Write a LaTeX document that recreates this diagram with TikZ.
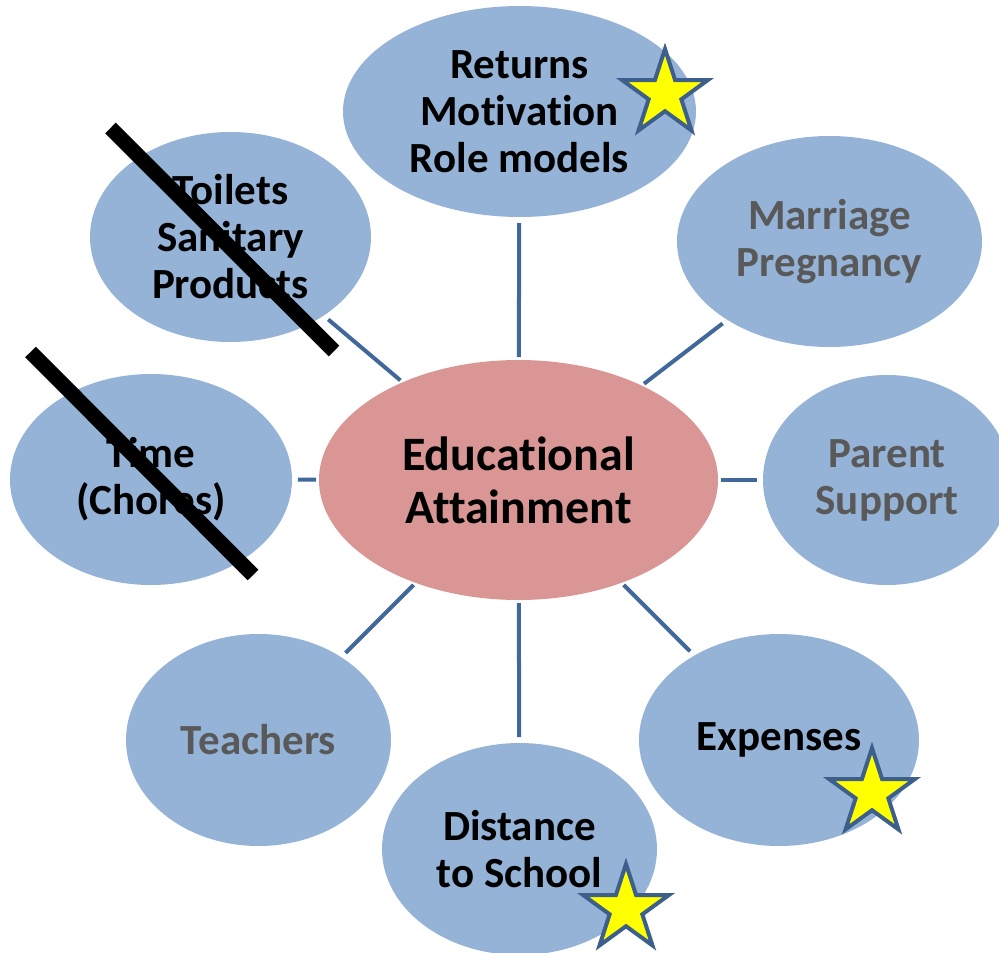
\documentclass[tikz,border=0pt]{standalone}
\usepackage{fontspec}
\setmainfont{Carlito}[Ligatures=NoCommon]
\usetikzlibrary{shapes.geometric}
\definecolor{bubblefill}{HTML}{95B3D7}
\definecolor{hubfill}{HTML}{D99694}
\definecolor{linkblue}{HTML}{41689A}
\definecolor{starline}{HTML}{3C5F8C}
\definecolor{greytext}{HTML}{595959}
\definecolor{staryellow}{HTML}{FFFF00}
\newcommand\bubblefont{\bfseries\fontsize{43}{47}\selectfont}
\newcommand\hubfont{\bfseries\fontsize{48}{53}\selectfont}
\begin{document}
\begin{tikzpicture}[x=1pt,y=-1pt,
  bubble/.style={ellipse, fill=bubblefill, inner sep=0pt, outer sep=0pt, align=center, font=\bubblefont, text=black},
  greybubble/.style={bubble, text=greytext},
  hubnode/.style={ellipse, fill=hubfill, inner sep=0pt, outer sep=0pt, align=center, font=\hubfont, text=black},
  conn/.style={draw=linkblue, line width=4pt, shorten <=3pt, shorten >=6pt},
  starmark/.style={star, star points=5, star point ratio=2.618, fill=staryellow, draw=starline, line width=4pt, minimum size=90pt, inner sep=0pt, outer sep=0pt},
  slash/.style={draw=black, line width=15pt}]
\useasboundingbox (0,0) rectangle (999,953);
\clip (0,0) rectangle (999,953);

% hub
\node[hubnode, minimum width=399pt, minimum height=240pt] (hub) at (518.5,480) {Educational\\Attainment};

% outer bubbles
\node[bubble, minimum width=353pt, minimum height=211pt] (returns) at (519.5,111.5) {Returns\\Motivation\\Role models};
\node[bubble, minimum width=281pt, minimum height=210pt] (toilets) at (230.5,237) {Toilets\\Sanitary\\Products};
\node[greybubble, minimum width=305pt, minimum height=211pt] (marriage) at (829.5,241.5) {Marriage\\Pregnancy};
\node[bubble, minimum width=282pt, minimum height=211pt] (time) at (151,479.5) {Time\\(Chores)};
\node[greybubble, minimum width=248pt, minimum height=210pt] (parent) at (887,480) {Parent\\Support};
\node[greybubble, minimum width=265pt, minimum height=212pt] (teachers) at (258.5,740) {Teachers};
\node[bubble, minimum width=275pt, minimum height=212pt] (distance) at (519.5,849) {Distance\\to School};
\node[bubble, minimum width=280pt, minimum height=212pt] (expenses) at (779,740) {Expenses};

% connectors
\foreach \t in {returns,toilets,marriage,time,parent,teachers,distance,expenses}
  \draw[conn] (hub) -- (\t);

% crossing-out slashes
\coordinate (sa1) at (110.5,128);
\coordinate (sa2) at (334,351);
\coordinate (sb1) at (30.5,352);
\coordinate (sb2) at (253,575);
\draw[slash] (sa1) -- (sa2);
\draw[slash] (sb1) -- (sb2);

% stars
\node[starmark] (star1) at (665,94) {};
\node[starmark] (star2) at (872,793) {};
\node[starmark] (star3) at (626,909) {};
\end{tikzpicture}
\end{document}
